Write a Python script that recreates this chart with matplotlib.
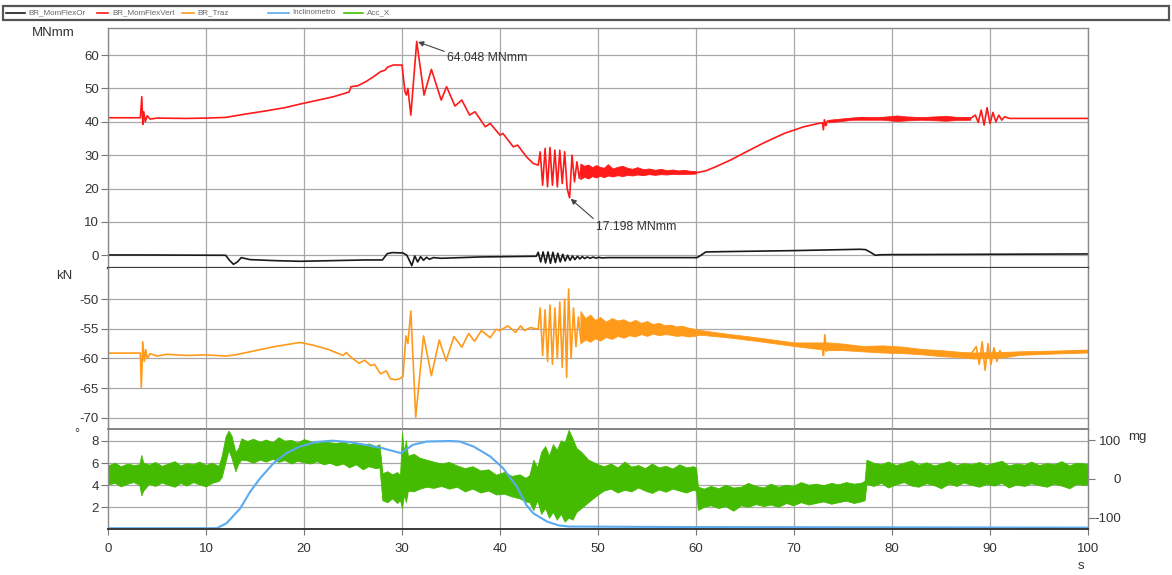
import matplotlib
matplotlib.use("Agg")
import matplotlib.pyplot as plt
from matplotlib.lines import Line2D
from matplotlib.patches import Rectangle

plt.rcParams['font.family'] = ['Liberation Sans', 'DejaVu Sans']
plt.rcParams['axes.unicode_minus'] = False

W, H, DPI = 1172, 575, 100

# ---------------- BR_MomFlexVert [MNmm] ----------------
vert_t = [0, 3.3, 3.45, 3.55, 3.65, 3.8, 4.0, 4.3, 5, 8, 10, 12, 14, 16, 18, 19.6, 21, 23,
          24.6, 24.8, 25.5, 26.3, 27, 27.8, 28.3, 28.5, 29.1, 30.0, 30.3, 30.45, 30.6, 30.9,
          31.5, 32.25, 33.0, 34.0, 34.55, 35.4, 36.1, 36.9, 37.45, 38.5, 39.0, 40.0, 40.3,
          41.35, 41.8, 42.7, 43.4, 43.9,
          44.1, 44.35, 44.6, 44.85, 45.1, 45.35, 45.6, 45.85, 46.1, 46.35, 46.6, 46.85,
          47.1, 47.35, 47.6, 47.85, 48.1, 48.3,
          50, 52, 55, 58, 60.2, 61, 62, 63.5, 65, 67, 69, 71, 72.5, 72.9, 73.0, 73.1, 73.25,
          73.4, 74, 75, 76, 77, 78, 80, 85, 88, 88.5, 88.8, 89.1, 89.4, 89.7, 90.0, 90.3,
          90.6, 90.9, 91.2, 91.5, 92, 100]
vert_v = [41.2, 41.2, 47.5, 39.2, 43.0, 40.0, 41.8, 40.8, 41.1, 41.0, 41.1, 41.3, 42.3, 43.2,
          44.2, 45.3, 46.2, 47.5, 48.9, 50.5, 50.8, 52.0, 53.3, 55.0, 55.5, 56.3, 57.0, 57.0,
          49.0, 48.0, 50.0, 42.0,
          64.048, 48.0, 55.7, 46.5, 50.5, 44.7, 46.5, 42.0, 43.0, 38.5, 39.5, 36.0, 36.5,
          32.5, 33.0, 29.5, 27.5, 27.0,
          31.0, 21.0, 32.0, 20.5, 32.3, 21.0, 31.5, 20.5, 31.5, 21.5, 31.0, 20.0,
          17.198, 30.0, 22.0, 28.0, 23.0, 26.5,
          25.0, 25.0, 24.9, 24.8, 24.8, 25.3, 26.5, 28.5, 30.8, 33.8, 36.5, 38.5, 39.5, 39.7,
          37.6, 40.6, 38.8, 40.2, 40.2, 40.6, 40.9, 41.2, 40.9, 41.0, 41.0, 41.0, 42.0, 39.8,
          43.5, 39.0, 44.2, 39.5, 42.8, 40.0, 42.0, 40.5, 41.5, 41.0, 41.0]
# ripple of the moment after the burst: time, lower, upper
vert_band_t = [48.2, 48.6, 49.0, 49.4, 49.8, 50.2, 50.6, 51.0, 51.5, 52.0, 52.5, 53.0, 53.5,
               54.0, 54.6, 55.2, 55.8, 56.4, 57.0, 57.6, 58.2, 58.8, 59.4, 60.0]
vert_band_hi = [27.5, 26.8, 27.2, 26.4, 27.0, 26.5, 26.2, 27.3, 26.0, 26.5, 26.8, 26.2, 25.9,
                26.4, 25.8, 26.0, 25.6, 25.9, 25.5, 25.7, 25.4, 25.6, 25.3, 25.2]
vert_band_lo = [22.8, 23.5, 23.0, 23.7, 23.3, 23.8, 23.4, 23.9, 23.6, 24.0, 23.7, 24.1, 23.9,
                24.2, 24.0, 24.3, 24.1, 24.3, 24.2, 24.4, 24.3, 24.4, 24.4, 24.5]
vert_tail_t = [73.5, 76, 79, 80.5, 81.5, 83, 85.5, 86.5, 88]
vert_tail_hi = [40.6, 41.3, 41.5, 41.9, 41.6, 41.4, 41.8, 41.5, 41.4]
vert_tail_lo = [39.8, 40.6, 40.6, 40.2, 40.4, 40.6, 40.3, 40.5, 40.6]

# ---------------- BR_MomFlexOr [MNmm] ----------------
or_t = [0, 3, 12.0, 12.4, 12.8, 13.2, 13.6, 14.5, 17, 19.6, 23, 26.3, 28.0, 28.5, 29, 30.1,
        30.5, 31.0, 31.3, 31.6, 31.9, 32.2, 32.5, 32.8, 33.2, 34, 38, 43.5,
        43.7, 43.9, 44.15, 44.4, 44.65, 44.9, 45.15, 45.4, 45.65, 45.9, 46.15, 46.4, 46.65,
        46.9, 47.15, 47.4, 47.65, 47.9, 48.15, 48.4, 48.65, 48.9, 49.2, 49.5, 49.8, 50.1,
        50.4, 51, 55, 60.1, 60.5, 61, 63, 70, 76.7, 77.3, 77.8, 78.3, 78.8, 80, 100]
or_v = [0.1, 0.1, 0.0, -1.5, -2.7, -2.0, -0.7, -1.3, -1.6, -1.8, -1.6, -1.4, -1.4, 0.5, 0.8,
        0.7, 0.0, -3.1, -0.2, -2.0, -0.4, -1.5, -0.6, -1.2, -0.7, -0.9, -0.5, -0.3,
        -0.3, 0.9, -2.0, 1.0, -2.3, 1.0, -2.4, 0.9, -2.2, 0.6, -2.0, 0.3, -1.7,
        0.0, -1.5, -0.2, -1.3, -0.3, -1.1, -0.4, -1.0, -0.5, -0.9, -0.55, -0.85, -0.6,
        -0.8, -0.7, -0.7, -0.7, 0.0, 1.0, 1.1, 1.4, 1.8, 1.7, 0.9, 0.0, 0.15, 0.2, 0.4]

# ---------------- BR_Traz [kN] ----------------
traz_t = [0, 3.3, 3.4, 3.55, 3.7, 3.85, 4.0, 4.3, 5, 6, 8, 10, 12, 13, 15, 17, 19.6, 21,
          22.5, 24, 24.3, 24.8, 25.6, 26.2, 26.8, 27.2, 27.8, 28.4, 28.8, 29.3, 29.8, 30.1,
          30.4, 30.6, 30.9, 31.4, 32.2, 33.0, 33.8, 34.5, 35.3, 36.1, 36.8, 37.4, 38.1,
          39.0, 39.6, 40.0, 40.8, 41.6, 42.1, 42.5, 43.1, 43.7,
          43.9, 44.1, 44.35, 44.6, 44.85, 45.1, 45.35, 45.6, 45.85, 46.1, 46.35, 46.6,
          46.8, 47.0, 47.25, 47.5, 47.75, 48.0, 48.25,
          50, 55, 60, 62, 65, 68, 70, 72, 72.9, 73.0, 73.15, 73.3, 73.5, 75, 78, 80, 83, 86,
          88, 88.6, 88.9, 89.2, 89.5, 89.8, 90.1, 90.4, 90.7, 91.0, 91.5, 92, 95, 98, 100]
traz_v = [-59.1, -59.1, -64.9, -57.2, -60.5, -58.5, -60.0, -59.2, -59.6, -59.3, -59.5, -59.4,
          -59.6, -59.4, -58.7, -58.0, -57.3, -57.8, -58.5, -59.5, -59.0, -59.8, -60.8, -60.3,
          -61.2, -61.0, -62.6, -62.1, -63.4, -63.6, -63.4, -63.0,
          -56.2, -57.5, -52.0, -69.9, -56.2, -62.9, -56.9, -60.4, -56.3, -58.1, -55.8, -57.1,
          -55.3, -56.5, -55.1, -55.3, -54.5, -55.6, -54.5, -55.3, -54.8, -55.0,
          -55.0, -51.5, -59.5, -51.8, -60.5, -51.0, -61.0, -51.5, -60.0, -50.5, -61.5, -50.0,
          -63.2, -48.3, -60.0, -51.5, -58.0, -53.0, -57.0,
          -55.0, -55.0, -55.5, -56.0, -56.6, -57.3, -57.6, -57.8, -57.9, -59.5, -56.0, -58.8,
          -57.8, -58.0, -58.3, -58.5, -58.8, -59.2, -59.4, -58.0, -61.0, -57.2, -62.0, -57.5,
          -61.0, -58.2, -60.5, -58.7, -59.8, -59.3, -59.0, -58.9, -58.7]
traz_band_t = [48.2, 48.7, 49.2, 49.7, 50.2, 50.8, 51.4, 52.0, 52.6, 53.2, 53.8, 54.4, 55.0,
               55.6, 56.2, 56.8, 57.4, 58.0, 58.6, 59.2, 59.8, 60.4, 63, 66, 70, 73.5, 75,
               77, 79, 81, 83, 85, 87, 88.3, 91.5, 93, 96, 100]
traz_band_hi = [-52.0, -53.2, -52.6, -53.5, -53.0, -53.8, -53.2, -53.6, -53.4, -53.9, -53.5,
                -54.0, -53.7, -54.2, -54.0, -54.4, -54.3, -54.6, -54.5, -54.8, -55.0, -55.2,
                -55.8, -56.4, -57.3, -57.3, -57.5, -57.9, -57.8, -58.0, -58.4, -58.6, -58.9,
                -59.0, -58.9, -58.8, -58.7, -58.5]
traz_band_lo = [-57.5, -56.8, -57.2, -56.6, -57.0, -56.4, -56.7, -56.2, -56.5, -56.1, -56.3,
                -55.9, -56.2, -55.8, -56.1, -55.9, -56.0, -56.2, -56.1, -56.3, -56.2, -56.0,
                -56.4, -57.0, -57.9, -58.6, -58.6, -58.8, -59.0, -59.1, -59.3, -59.6, -59.8,
                -60.0, -59.8, -59.4, -59.2, -59.0]

# ---------------- Inclinometro [deg] ----------------
incl_t = [0, 11.1, 12.1, 13.5, 14.5, 15.5, 16.9, 18.2, 19.6, 21.2, 22.9, 24.6, 26.3, 28.0,
          29.9, 31.1, 32.5, 34.9, 35.9, 37.3, 39.0, 40.3, 41.7, 42.7, 43.4, 44.8, 46.0, 47.0,
          60, 100]
incl_v = [0.1, 0.1, 0.55, 1.9, 3.4, 4.6, 6.0, 6.9, 7.5, 7.9, 8.03, 7.9, 7.65, 7.35, 6.9,
          7.65, 7.95, 8.0, 7.95, 7.5, 6.6, 5.55, 3.9, 2.2, 1.45, 0.7, 0.35, 0.25, 0.2, 0.15]

# ---------------- Acc_X [mg] : extremes of the vibration signal ----------------
acc_t = [0, 0.7, 1.3, 2.0, 2.6, 3.2, 3.4, 3.6, 4.2, 4.8, 5.5, 6.1, 6.8, 7.4, 8.0, 8.7, 9.3,
         10.0, 10.6, 11.3,
         11.6, 12.0, 12.3, 12.6, 13.0, 13.3, 13.6,
         14.2, 14.8, 15.5, 16.1, 16.8, 17.4, 18.0, 18.7, 19.3, 20.0, 20.6, 21.3, 22.0, 22.6,
         23.3, 24.0, 24.6, 25.3, 26.0, 26.6, 27.3, 27.7,
         28.0, 28.5, 29.0, 29.5, 29.8, 30.0, 30.2, 30.4, 30.6,
         31.2, 31.8, 32.5, 33.2, 34.0, 34.8, 35.6, 36.4, 37.2, 38.0, 38.8, 39.6, 40.4, 41.2,
         42.0, 42.6,
         43.0, 43.4, 43.8, 44.2, 44.6, 45.0, 45.4, 45.8, 46.2, 46.6, 47.0, 47.4, 47.8, 48.3,
         49.0, 50.0,
         50.6, 51.3, 52.0, 52.7, 53.4, 54.1, 54.8, 55.5, 56.2, 56.9, 57.6, 58.3, 59.0, 59.7,
         60.0,
         60.2, 60.8, 61.5, 62.3, 63.0, 63.8, 64.6, 65.3, 66.1, 66.9, 67.6, 68.4, 69.2, 69.9,
         70.7, 71.5, 72.2, 73.0, 73.8, 74.5, 75.3, 76.1, 76.8, 77.2,
         77.4, 78.1, 78.9, 79.6, 80.4, 81.2, 82.0, 82.7, 83.5, 84.3, 85.0, 85.8, 86.6, 87.3,
         88.1, 88.9, 89.6, 90.4, 91.2, 91.9, 92.7, 93.5, 94.2, 95.0, 95.8, 96.5, 97.3, 98.1,
         98.8, 99.6, 100]
acc_hi = [35, 42, 33, 40, 36, 38, 62, 42, 37, 44, 34, 40, 46, 35, 41, 38, 45, 36, 42, 34,
          60, 110, 125, 112, 70, 80, 105,
          98, 104, 96, 102, 95, 108, 99, 101, 94, 103, 98, 92, 99, 95, 93, 97, 90, 94, 88, 92,
          85, 90,
          15, 20, 12, 18, 10, 119, 70, 100, 60,
          65, 55, 50, 45, 40, 44, 35, 28, 33, 22, 25, 11, 18, 8, 12, 3,
          10, 50, 30, 70, 85, 60, 90, 75, 100, 95, 127, 105, 80, 70,
          50, 38,
          33, 40, 30, 45, 32, 36, 28, 40, 30, 34, 27, 38, 30, 33, 30,
          -20, -25, -18, -24, -15, -22, -20, -10, -18, -22, -12, -20, -15, -18, -8, -15, -12,
          -16, -10, -14, -8, -12, -10, -5,
          50, 42, 38, 45, 36, 42, 48, 37, 43, 35, 40, 46, 36, 41, 38, 44, 36, 42, 47, 35, 40,
          37, 45, 36, 41, 38, 46, 35, 42, 40, 38]
acc_lo = [-14, -10, -19, -12, -8, -15, -42, -30, -12, -18, -9, -15, -20, -10, -17, -8, -14,
          -19, -10, -5,
          5, 45, 75, 55, 20, 40, 50,
          48, 42, 50, 45, 52, 44, 49, 40, 47, 43, 40, 46, 38, 42, 35, 40, 30, 38, 25, 33, 28,
          30,
          -55, -60, -50, -62, -55, -75, -40, -60, -30,
          -32, -25, -20, -23, -18, -25, -20, -32, -25, -35, -30, -40, -38, -45, -50, -58,
          -60, -80, -55, -90, -75, -100, -85, -105, -90, -110, -100, -105, -85, -75,
          -60, -40,
          -30, -25, -35, -28, -32, -22, -30, -36, -27, -33, -25, -30, -35, -28, -30,
          -80, -72, -68, -75, -70, -82, -68, -72, -65, -70, -66, -72, -62, -68, -60, -66, -62,
          -58, -64, -60, -56, -62, -58, -55,
          -12, -18, -10, -22, -14, -8, -17, -20, -11, -16, -24, -12, -18, -9, -15, -20, -13,
          -17, -10, -22, -14, -18, -11, -16, -20, -12, -17, -24, -13, -15, -14]

# annotated extremes of the bending moment
peak_t, peak_v = 31.5, 64.048
low_t, low_v = 47.1, 17.198

legend_names = ["BR_MomFlexOr", "BR_MomFlexVert", "BR_Traz", "Inclinometro", "Acc_X"]

C_OR, C_VERT, C_TRAZ, C_INCL, C_ACC = '#1a1a1a', '#ff1a1a', '#ff9a1a', '#5aaaf0', '#44bb00'
GRID = '#a8a8a8'
TXT = '#333333'

fig = plt.figure(figsize=(W / DPI, H / DPI), dpi=DPI)


def px_axes(x0, y0, x1, y1):
    return fig.add_axes([x0 / W, 1 - y1 / H, (x1 - x0) / W, (y1 - y0) / H])


def fx(x):
    return x / W


def fy(y):
    return 1 - y / H


ax1 = px_axes(108, 28.3, 1088, 268.3)
ax2 = px_axes(108, 268.3, 1088, 429.3)
ax3 = px_axes(108, 429.3, 1088, 529.3)
ax3r = ax3.twinx()
ax3.set_zorder(ax3r.get_zorder() + 1)
ax3.patch.set_visible(False)

ax1.set_ylim(-3.9, 68)
ax2.set_ylim(-71.95, -44.8)
ax3.set_ylim(0, 9.06)
ax3r.set_ylim(-130, 128.4)

for ax, yt in ((ax1, range(0, 61, 10)), (ax2, range(-70, -49, 5)), (ax3, range(2, 9, 2))):
    ax.set_xlim(0, 100)
    ax.set_yticks(list(yt))
    ax.set_xticks(range(0, 101, 10))
    ax.tick_params(axis='y', direction='out', length=5, width=0.8, color='#777777',
                   pad=1.5, labelsize=9.5, labelcolor=TXT)
    for s in ax.spines.values():
        s.set_color('#8a8a8a')
        s.set_linewidth(1.0)

for ax in (ax1, ax2):
    ax.grid(True, color=GRID, linewidth=0.9)
    ax.set_axisbelow(True)
    ax.tick_params(axis='x', bottom=False, labelbottom=False)

ax1.spines['bottom'].set_color('#3a3a3a')
ax1.spines['bottom'].set_linewidth(1.6)
ax2.spines['top'].set_visible(False)
ax2.spines['bottom'].set_color('#7a7a7a')
ax2.spines['bottom'].set_linewidth(1.3)
ax3.spines['top'].set_visible(False)
ax3.spines['bottom'].set_color('#3a3a3a')
ax3.spines['bottom'].set_linewidth(1.4)
ax3.tick_params(axis='x', direction='out', length=4, width=0.8, color='#777777', pad=6,
                labelsize=9.5, labelcolor=TXT)
for s in ax3r.spines.values():
    s.set_visible(False)
ax3r.spines['right'].set_visible(True)
ax3r.spines['right'].set_color('#8a8a8a')
ax3r.set_yticks([-100, 0, 100])
ax3r.tick_params(axis='y', direction='out', length=5, width=0.8, color='#777777',
                 pad=19, labelsize=9.5, labelcolor=TXT)
for lab in ax3r.get_yticklabels():
    lab.set_horizontalalignment('right')

# grid of the lower panel sits underneath the acceleration trace
for x in range(10, 100, 10):
    ax3r.axvline(x, color=GRID, linewidth=0.9, zorder=0.5)
for y in range(2, 9, 2):
    ax3r.plot([0, 100], [y, y], transform=ax3.transData, color=GRID, linewidth=0.9,
              zorder=0.5)

# traces
ax1.plot(or_t, or_v, color=C_OR, linewidth=1.2)
ax1.fill_between(vert_band_t, vert_band_lo, vert_band_hi, color=C_VERT, linewidth=0.6)
ax1.fill_between(vert_tail_t, vert_tail_lo, vert_tail_hi, color=C_VERT, linewidth=0.5)
ax1.plot(vert_t, vert_v, color=C_VERT, linewidth=1.2)

ax2.fill_between(traz_band_t, traz_band_lo, traz_band_hi, color=C_TRAZ, linewidth=0.6)
ax2.plot(traz_t, traz_v, color=C_TRAZ, linewidth=1.2)

ax3r.fill_between(acc_t, acc_lo, acc_hi, color=C_ACC, linewidth=0.6, edgecolor=C_ACC)
ax3.plot(incl_t, incl_v, color=C_INCL, linewidth=1.5)

# annotations
arrow = dict(arrowstyle='-|>', color='#444444', lw=0.8, mutation_scale=8,
             shrinkA=0, shrinkB=1, relpos=(0, 1))
ax1.annotate(f"{peak_v:.3f} MNmm", xy=(peak_t, peak_v), xytext=(34.6, 59.0),
             fontsize=8.8, color=TXT, va='center', ha='left', arrowprops=arrow)
ax1.annotate(f"{low_v:.3f} MNmm", xy=(low_t, low_v), xytext=(49.8, 8.5),
             fontsize=8.8, color=TXT, va='center', ha='left', arrowprops=arrow)

# unit labels
fig.text(fx(32), fy(33), "MNmm", fontsize=9.5, color=TXT, va='center', ha='left')
fig.text(fx(56), fy(276), "kN", fontsize=9.5, color=TXT, va='center', ha='left')
fig.text(fx(74), fy(434), "°", fontsize=9, color=TXT, va='center', ha='left')
fig.text(fx(1128), fy(437), "mg", fontsize=9.5, color=TXT, va='center', ha='left')
fig.text(fx(1081), fy(566), "s", fontsize=9.5, color=TXT, va='center', ha='center')

# legend strip
fig.add_artist(Rectangle((fx(3), fy(19.5)), fx(1166), fy(5.5) - fy(19.5),
                         transform=fig.transFigure, fill=False, edgecolor='#555555',
                         linewidth=1.6))
leg_line_x = [(6, 25), (97, 108), (182, 194), (268, 289), (344, 363)]
leg_text_x = [28, 112, 197, 292, 367]
leg_colors = [C_OR, C_VERT, C_TRAZ, C_INCL, C_ACC]
for (a, b), tx, col, name in zip(leg_line_x, leg_text_x, leg_colors, legend_names):
    fig.add_artist(Line2D([fx(a), fx(b)], [fy(12.5), fy(12.5)], transform=fig.transFigure,
                          color=col, linewidth=1.2))
    fig.text(fx(tx), fy(12.5), name, fontsize=5.8, color='#666666', va='center',
             ha='left')

fig.savefig("out.png", dpi=DPI)
